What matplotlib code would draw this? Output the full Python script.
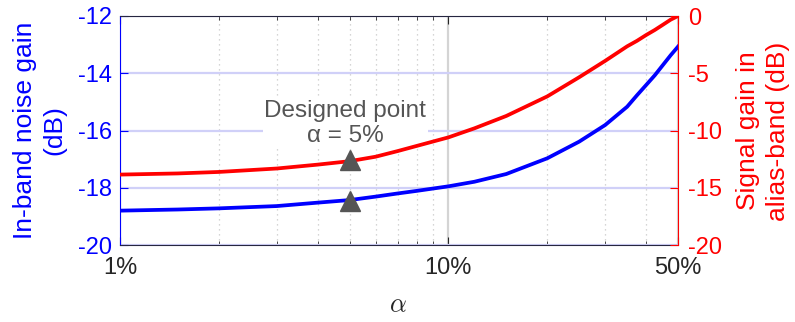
import matplotlib
matplotlib.use("Agg")
import matplotlib.pyplot as plt
from matplotlib.ticker import FixedLocator, NullFormatter

plt.rcParams['font.family'] = ['Liberation Sans', 'DejaVu Sans']
plt.rcParams['mathtext.fontset'] = 'cm'
plt.rcParams['axes.unicode_minus'] = False

# alpha in percent
alpha = [1, 1.5, 2, 3, 4, 5, 6, 7, 8, 10, 12, 15, 20, 25, 30, 35, 37.5, 40, 42.5, 45, 47.5, 50]
noise_gain = [-18.80, -18.76, -18.72, -18.64, -18.52, -18.43, -18.31, -18.20, -18.11,
              -17.95, -17.79, -17.52, -16.97, -16.39, -15.81, -15.17, -14.77, -14.41,
              -14.07, -13.71, -13.37, -13.07]
alias_gain = [-13.85, -13.75, -13.62, -13.32, -12.98, -12.68, -12.29, -11.80, -11.35,
              -10.60, -9.81, -8.73, -7.02, -5.35, -3.92, -2.65, -2.17, -1.66,
              -1.22, -0.76, -0.32, 0.0]
design_alpha = 5
design_noise = -18.45
design_alias = -12.6

xticks = [1, 10, 50]
xticklabels = ['1%', '10%', '50%']
minor_x = [2, 3, 4, 5, 6, 7, 8, 9, 20, 30, 40]
left_ticks = [-20, -18, -16, -14, -12]
right_ticks = [-20, -15, -10, -5, 0]

W, H = 795, 322
fig = plt.figure(figsize=(W / 100, H / 100), dpi=100)
ax = fig.add_axes([120 / W, 1 - 245 / H, 558 / W, 229 / H])
ax2 = ax.twinx()

ax.set_xscale('log')
ax.set_xlim(1, 50)
ax.set_ylim(-20, -12)
ax2.set_ylim(-20, 0)

ax.xaxis.set_major_locator(FixedLocator(xticks))
ax.set_xticklabels(xticklabels)
ax.xaxis.set_minor_locator(FixedLocator(minor_x))
ax.xaxis.set_minor_formatter(NullFormatter())
ax.set_yticks(left_ticks)
ax2.set_yticks(right_ticks)

# grids
ax.grid(False)
ax.xaxis.grid(True, which='major', color='#d4d4d4', lw=1.6, ls='-', zorder=0)
ax.xaxis.grid(True, which='minor', color='#c8c8c8', lw=0.9, ls=(0, (1, 3)), zorder=0)
ax.yaxis.grid(True, which='major', color='#d0d0f8', lw=1.6, ls='-', zorder=1)
ax.set_axisbelow(True)

ax.plot(alpha, noise_gain, color='#0000ff', lw=2.7, zorder=3)
ax2.plot(alpha, alias_gain, color='#ff0000', lw=2.7, zorder=3)
ax.plot([design_alpha], [design_noise], marker='^', color='#555555', ms=15, zorder=5, ls='none')
ax2.plot([design_alpha], [design_alias], marker='^', color='#555555', ms=15, zorder=5, ls='none')

ax.text(4.85, -15.75, 'Designed point\nα = 5%', color='#555555', fontsize=17.5,
        ha='center', va='center', linespacing=1.2, zorder=4,
        bbox=dict(facecolor='white', edgecolor='none', pad=1))

# spines and ticks
ax.spines['left'].set_color('#0000ff')
ax.spines['bottom'].set_color('#262640')
ax.spines['top'].set_color('#262640')
ax.spines['right'].set_visible(False)
ax2.spines['right'].set_color('#ff0000')
ax2.spines['left'].set_visible(False)
ax2.spines['top'].set_visible(False)
ax2.spines['bottom'].set_visible(False)

ax.tick_params(axis='y', colors='#0000ff', direction='in', labelsize=17, length=6, pad=6)
ax.tick_params(axis='x', which='both', direction='in', top=True, colors='#262626',
               labelsize=17, pad=9)
ax.tick_params(axis='x', which='major', length=6)
ax.tick_params(axis='x', which='minor', length=3)
ax2.tick_params(axis='y', colors='#ff0000', direction='in', labelsize=17, length=6, pad=7)

fig.text(40 / W, 1 - 130 / H, 'In-band noise gain\n(dB)', color='#0000ff', fontsize=19,
         rotation=90, ha='center', va='center', linespacing=1.3)
fig.text(763 / W, 1 - 131 / H, 'Signal gain in\nalias-band (dB)', color='#ff0000', fontsize=19,
         rotation=90, ha='center', va='center', linespacing=1.3)
fig.text(398 / W, 1 - 305 / H, r'$\alpha$', fontsize=19, color='#262626',
         ha='center', va='center')

fig.savefig('out.png', dpi=100)
